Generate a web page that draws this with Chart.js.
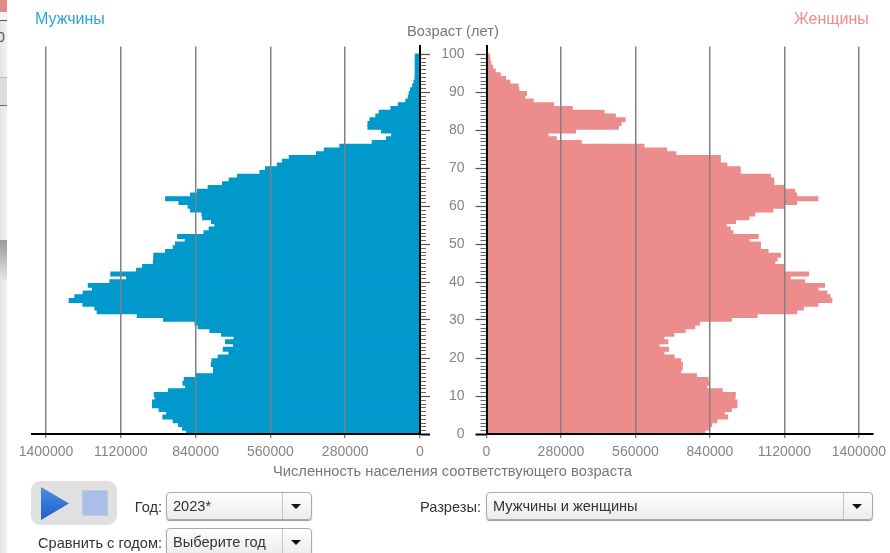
<!DOCTYPE html>
<html lang="ru"><head><meta charset="utf-8">
<style>
html,body{margin:0;padding:0;background:#fff;width:890px;height:553px;overflow:hidden;font-family:"Liberation Sans",Arial,sans-serif}
#page{position:absolute;left:0;top:0;width:890px;height:553px;overflow:hidden;filter:blur(.35px)}
canvas{position:absolute;top:0}
.t{position:absolute;white-space:nowrap;line-height:1}
.sel{position:absolute;box-sizing:border-box;border:1px solid #a9a9a9;border-radius:4px;background:linear-gradient(#fdfdfd,#ececec);box-shadow:0 1px 1px #999;color:#333;font-size:14.6px}
.sel span{position:absolute;left:6px;top:6px;line-height:1;white-space:nowrap}
.sel i{position:absolute;top:0;bottom:0;width:1px;background:#c4c4c4}
.sel b{position:absolute;top:11px;width:0;height:0;border-left:5px solid transparent;border-right:5px solid transparent;border-top:5px solid #111}
</style></head><body>
<div id="page">
<div style="position:absolute;left:0;top:0;width:7px;height:553px;background:linear-gradient(90deg,#e4e4e4,#f1f1f1)"></div>
<div style="position:absolute;left:0;top:0;width:7px;height:12px;background:#e08a8a"></div>
<div style="position:absolute;left:0;top:12px;width:7px;height:8px;background:#f4f4f4;border-bottom:1px solid #555"></div>
<div style="position:absolute;left:0;top:77px;width:7px;height:27px;background:#dcdcdc;border-top:1px solid #bbb;border-bottom:1px solid #666"></div>
<div style="position:absolute;left:0;top:240px;width:7px;height:40px;background:linear-gradient(#999,#e6e6e6)"></div>
<div class="t" style="left:-3px;top:30px;width:10px;overflow:hidden;font-size:14px;color:#555">0</div>
<canvas id="men" width="431" height="470" style="left:0"></canvas>
<canvas id="women" width="450" height="470" style="left:440px"></canvas>
<div class="t" style="left:35px;top:11px;font-size:16px;color:#2aa5d8">Мужчины</div>
<div class="t" style="left:794px;top:11px;font-size:16px;color:#f08c8c">Женщины</div>
<div class="t" style="left:407px;top:24px;font-size:14.7px;color:#777">Возраст (лет)</div>
<div class="t" style="left:273px;top:464px;font-size:14.7px;color:#777">Численность населения соответствующего возраста</div>
<div style="position:absolute;left:31px;top:481px;width:86px;height:44px;background:#e0e0e0;border-radius:9px"></div>
<div style="position:absolute;left:41px;top:487px;width:28px;height:33px;background:linear-gradient(#4a8fe0,#1f5fc8);clip-path:polygon(0 0,100% 50%,0 100%)"></div>
<div style="position:absolute;left:82px;top:490px;width:26px;height:26px;background:#a9bfe6;box-shadow:inset 0 0 0 1px #b9cbec"></div>
<div class="t" style="right:728px;top:500px;font-size:14.6px;color:#333">Год:</div>
<div class="sel" style="left:166px;top:492px;width:146px;height:28px"><span>2023*</span><i style="left:115px"></i><b style="left:124px"></b></div>
<div class="t" style="right:728px;top:536px;font-size:14.6px;color:#333">Сравнить с годом:</div>
<div class="sel" style="left:166px;top:528px;width:146px;height:28px"><span>Выберите год</span><i style="left:115px"></i><b style="left:124px"></b></div>
<div class="t" style="right:409px;top:500px;font-size:14.6px;color:#333">Разрезы:</div>
<div class="sel" style="left:486px;top:492px;width:387px;height:28px"><span>Мужчины и женщины</span><i style="left:356px"></i><b style="left:365px"></b></div>
</div>
<script src="https://cdn.jsdelivr.net/npm/chart.js@4/dist/chart.umd.min.js"></script>
<script>
const ages=[0,1,2,3,4,5,6,7,8,9,10,11,12,13,14,15,16,17,18,19,20,21,22,23,24,25,26,27,28,29,30,31,32,33,34,35,36,37,38,39,40,41,42,43,44,45,46,47,48,49,50,51,52,53,54,55,56,57,58,59,60,61,62,63,64,65,66,67,68,69,70,71,72,73,74,75,76,77,78,79,80,81,82,83,84,85,86,87,88,89,90,91,92,93,94,95,96,97,98,99,100];
const menValues=[873500,888500,903500,923500,962000,948000,976000,1001000,1001000,991000,994500,941000,877000,887000,882000,836000,772500,772500,781000,778500,755000,715000,736000,697500,727500,696000,742500,786000,830000,842000,959500,1058000,1208000,1217000,1261500,1313000,1291500,1260500,1225500,1241500,1160500,1098000,1157000,1061000,1038000,998000,996000,996000,952000,923500,915000,878500,907000,808500,789000,767500,780000,813500,816000,858500,867500,902000,952000,858500,832500,792500,739000,714000,682500,599000,578000,534000,514000,489000,387000,358000,299500,178500,125000,106000,143500,194500,194500,187000,165000,152000,108500,81000,52500,43500,40000,35000,27500,22500,18500,17500,17500,17500,17500,17500,17500];
const womenValues=[821000,833500,846000,866000,906000,893500,920000,941000,941000,933500,935000,886000,827500,835000,832500,789000,729000,735000,736500,730000,705000,666500,684000,649000,681500,666500,704000,746500,782500,801000,921000,1017000,1165500,1190500,1245500,1298000,1291500,1279000,1245500,1270500,1195500,1142000,1210500,1118000,1117000,1083000,1092000,1104500,1058000,1029500,1029500,987000,1021000,926000,916000,901000,936000,986000,1008500,1076000,1116000,1165500,1245500,1165500,1158000,1117000,1079500,1079500,1067000,953500,953500,903500,878500,878500,711500,676500,591500,355500,262000,231000,334500,495500,505500,520500,484000,442000,322000,252000,175000,143500,150000,121000,118500,87500,71000,51000,32500,22500,16000,12500,11000];
const populationTicks=[0,280000,560000,840000,1120000,1400000];
const ageTicks=[0,10,20,30,40,50,60,70,80,90,100];

const GREY='#808080',TEXT='#858585';
const tickFont={family:'"Liberation Sans",Arial,sans-serif',size:14};
const minorTicks=side=>({id:'minorTicks',afterDatasetsDraw(c){
  const s=c.scales.y,g=c.ctx,x0=side<0?c.chartArea.left:c.chartArea.right;
  g.save();g.strokeStyle='#666';g.lineWidth=1;
  ages.forEach(a=>{if(a%10===0)return;const y=Math.round(s.getPixelForValue(a))+.5;
    g.beginPath();g.moveTo(x0,y);g.lineTo(x0+side*6,y);g.stroke();});
  g.restore();}});
function pyramid(id,values,color,isLeft,xMax,padding,yWidth){
  return new Chart(document.getElementById(id),{
    type:'bar',
    data:{datasets:[{data:ages.map((a,i)=>({x:values[i],y:a})),backgroundColor:color,xAxisID:'x',yAxisID:'ages',barPercentage:1,categoryPercentage:1,inflateAmount:.6,borderWidth:0}]},
    plugins:[minorTicks(isLeft?1:-1)],
    options:{indexAxis:'y',responsive:false,animation:false,layout:{padding},
      plugins:{legend:{display:false},tooltip:{enabled:false}},
      scales:{
        x:{type:'linear',reverse:isLeft,min:0,max:xMax,
          afterBuildTicks:s=>{s.ticks=populationTicks.map(value=>({value}))},
          afterFit:s=>{s.height=36;s.paddingLeft=0;s.paddingRight=0},
          grid:{z:1,color:c=>c.tick&&c.tick.value===0?'rgba(0,0,0,0)':GREY,lineWidth:1.5,tickLength:4,tickColor:'#555',tickWidth:1},
          border:{z:1,color:'#000',width:2},
          ticks:{font:tickFont,color:TEXT,autoSkip:false,maxRotation:0,padding:6,callback:v=>String(v)}},
        ages:{type:'linear',display:false,offset:false,min:-0.5,max:102.52},
        y:{type:'linear',position:isLeft?'right':'left',offset:false,min:0,max:102,
          afterBuildTicks:s=>{s.ticks=ageTicks.map(value=>({value}))},
          afterFit:s=>{s.width=yWidth;s.paddingTop=0;s.paddingBottom=0},
          grid:{z:1,drawOnChartArea:false,tickLength:isLeft?10:11,tickColor:c=>c.tick&&c.tick.value===0?'#000':'#555',tickWidth:c=>c.tick&&c.tick.value===0?2:1.2,offset:false},
          border:{z:1,color:'#000',width:2},
          ticks:{font:tickFont,color:TEXT,autoSkip:false,padding:11,callback:v=>isLeft?'':String(v)}}
      }}});
}
pyramid('men',menValues,'#0099CC',true,1452400,{top:46.4,left:32,right:0,bottom:0},11);
pyramid('women',womenValues,'#EC8C8C',false,1453000,{top:46.4,left:0,right:17,bottom:0},46.5);
</script>
</body></html>
